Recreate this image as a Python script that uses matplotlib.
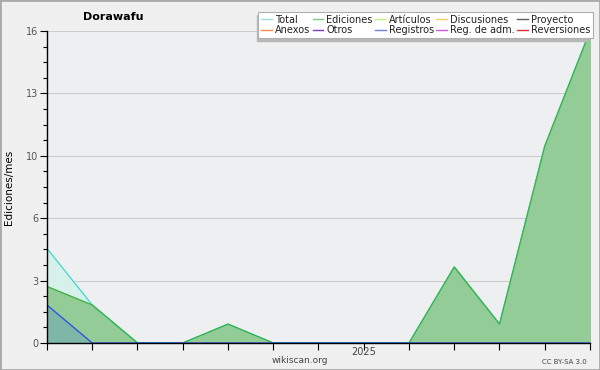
import numpy as np
import matplotlib.pyplot as plt
from matplotlib.ticker import FixedLocator, MultipleLocator

# ---------- Data ----------
months = list(range(13))  # jun 2024 .. jun 2025
ediciones = [2.9, 1.95, 0, 0, 0.97, 0, 0, 0, 0, 3.9, 0.97, 10.1, 16]
registros = [1.95, 0, 0, 0, 0, 0, 0, 0, 0, 0, 0, 0, 0]
total = [e + r for e, r in zip(ediciones, registros)]

legend_names = ['Total', 'Ediciones', 'Artículos', 'Discusiones', 'Proyecto',
                'Anexos', 'Otros', 'Registros', 'Reg. de adm.', 'Reversiones']
legend_colors = ['#9fe0e0', '#7cc88c', '#c4f07c', '#f4d060', '#606060',
                 '#f08c50', '#7c3cc8', '#6c80e4', '#c85ce0', '#e03030']

ytick_vals = [0, 3.2, 6.4, 9.6, 12.8, 16]
ytick_labels = ['0', '3', '6', '10', '13', '16']

# ---------- Figure ----------
fig = plt.figure(figsize=(6, 3.7), dpi=100, facecolor='#f0f0f0')
ax = fig.add_axes([0.0783, 0.073, 0.905, 0.843], facecolor='#eeeff1')

ax.fill_between(months, 0, total, color='#d6f0ea', zorder=2)
ax.plot(months, total, color='#40d8d0', lw=0.9, zorder=5)
ax.fill_between(months, 0, ediciones, color='#93cc96', zorder=3)
ax.plot(months, ediciones, color='#3cb044', lw=0.9, zorder=5)
ax.fill_between(months, 0, registros, color='#5c90c8', alpha=0.35, zorder=4)
ax.plot(months, registros, color='#2f4fe0', lw=0.9, zorder=6)

ax.set_xlim(0, 12)
ax.set_ylim(0, 16)

ax.yaxis.set_major_locator(FixedLocator(ytick_vals))
ax.set_yticklabels(ytick_labels)
ax.yaxis.set_minor_locator(MultipleLocator(0.8))
ax.set_xticks(months)
ax.set_xticklabels(['' if m != 7 else '2025' for m in months])

ax.tick_params(axis='y', which='major', length=5, width=0.8, labelsize=7,
               labelcolor='#555555', pad=1)
ax.tick_params(axis='y', which='minor', length=3, width=0.8)
ax.tick_params(axis='x', length=5, width=0.8, labelsize=7,
               labelcolor='#444444', pad=-2)

ax.grid(axis='y', which='major', color='#cccccc', lw=0.8, zorder=1)
ax.set_axisbelow(True)
for s in ['top', 'right']:
    ax.spines[s].set_visible(False)
for s in ['left', 'bottom']:
    ax.spines[s].set_linewidth(1.0)
    ax.spines[s].set_zorder(7)

ax.set_ylabel('Ediciones/mes', fontsize=7.5, labelpad=9)

fig.text(0.188, 0.955, 'Dorawafu', fontsize=8, fontweight='bold',
         ha='center', va='center')
fig.text(0.5, 0.025, 'wikiscan.org', fontsize=6.5, color='#444444',
         ha='center', va='center')
fig.text(0.978, 0.022, 'CC BY-SA 3.0', fontsize=5, color='#444444',
         ha='right', va='center')

# legend is filled column by column, so reorder to read row by row
order = [0, 5, 1, 6, 2, 7, 3, 8, 4, 9]
handles = [plt.Line2D([], [], color=legend_colors[i], lw=1) for i in order]
labels = [legend_names[i] for i in order]

# shadow of the legend box (offset left/down)
fig.patches.append(plt.Rectangle((0.428, 0.89), 0.55, 0.07,
                                 transform=fig.transFigure,
                                 color='#b8b8b8', zorder=9))
leg = fig.legend(handles, labels, ncol=5, loc='upper right',
                 bbox_to_anchor=(0.988, 0.968), fontsize=7.0, frameon=True,
                 fancybox=False, shadow=False, handlelength=1.1,
                 handletextpad=0.3, columnspacing=0.25, labelspacing=0.05,
                 borderpad=0.3, borderaxespad=0, framealpha=1,
                 labelcolor='#222222')
leg.get_frame().set_edgecolor('#b0b0b0')
leg.get_frame().set_linewidth(0.8)
leg.set_zorder(10)

# thin gray border around the image
fig.patches.append(plt.Rectangle((0, 0), 1, 1, transform=fig.transFigure,
                                 fill=False, edgecolor='#aaaaaa', lw=2))

fig.savefig('out.png', dpi=100, facecolor=fig.get_facecolor())
